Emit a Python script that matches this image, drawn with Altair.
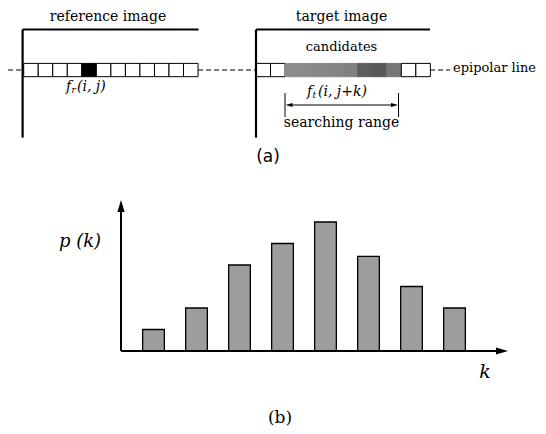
import altair as alt
import pandas as pd

# ---------------- data ----------------
k_values = [1, 2, 3, 4, 5, 6, 7, 8]
p_values = [1.0, 2.0, 4.0, 5.0, 6.0, 4.4, 3.0, 2.0]

ref_cell_fill = ["white"] * 4 + ["black"] + ["white"] * 7
target_cell_fill = ["white", "white",
                    "#8c8c8c", "#8a8a8a", "#878787", "#858585",
                    "#808080", "#5e5e5e", "#585858", "#767676",
                    "white", "white"]

labels_top = ["reference image", "target image", "candidates", "searching range"]
label_epipolar = "epipolar line"
label_a = "(a)"
label_b = "(b)"
label_p = "p (k)"
label_k = "k"

SERIF = "DejaVu Serif"

# ---------------- layout (page pixels) ----------------
XS = alt.Scale(domain=[8, 538], nice=False, zero=False)
YS = alt.Scale(domain=[8, 434], nice=False, zero=False, reverse=True)


def X(f="x"):
    return alt.X(f"{f}:Q", scale=XS, axis=None)


def Y(f="y"):
    return alt.Y(f"{f}:Q", scale=YS, axis=None)


CELL_W = 14.53
STRIP_Y0, STRIP_Y1 = 63.4, 76.7
REF_X0, TGT_X0 = 23.7, 256.0
BAR_X0, BAR_DX, BAR_W = 153.5, 43.0, 21.7
BASE_Y, UNIT = 351.0, 21.5
SR_L, SR_R, SR_Y = 285.0, 398.5, 105.0

cells = []
for i, f in enumerate(ref_cell_fill):
    cells.append(dict(x=REF_X0 + i * CELL_W, x2=REF_X0 + (i + 1) * CELL_W,
                      y=STRIP_Y0, y2=STRIP_Y1, fill=f, stroke="black"))
for i, f in enumerate(target_cell_fill):
    cells.append(dict(x=TGT_X0 + i * CELL_W, x2=TGT_X0 + (i + 1) * CELL_W,
                      y=STRIP_Y0, y2=STRIP_Y1, fill=f,
                      stroke="black" if f == "white" else f))
cells_df = pd.DataFrame(cells)

bars_df = pd.DataFrame({"k": k_values, "p": p_values})
bars_df["x"] = BAR_X0 + (bars_df["k"] - 1) * BAR_DX - BAR_W / 2
bars_df["x2"] = bars_df["x"] + BAR_W
bars_df["y"] = BASE_Y
bars_df["y2"] = BASE_Y - bars_df["p"] * UNIT

solid = pd.DataFrame([
    dict(x=22.6, y=29.6, x2=22.6, y2=137.6, w=2.2),
    dict(x=22.6, y=29.6, x2=198.6, y2=29.6, w=2.0),
    dict(x=256.0, y=29.6, x2=256.0, y2=137.6, w=2.2),
    dict(x=256.0, y=29.6, x2=430.0, y2=29.6, w=2.0),
    dict(x=SR_L, y=93.0, x2=SR_L, y2=117.0, w=1.0),
    dict(x=SR_R, y=93.0, x2=SR_R, y2=117.0, w=1.0),
    dict(x=SR_L + 4, y=SR_Y, x2=SR_R - 4, y2=SR_Y, w=1.2),
    dict(x=121.0, y=351.0, x2=121.0, y2=208.0, w=2.0),
    dict(x=121.0, y=351.0, x2=500.0, y2=351.0, w=2.0),
])
dashed = pd.DataFrame([
    dict(x=8.0, y=70.0, x2=22.6, y2=70.0),
    dict(x=198.0, y=70.0, x2=256.0, y2=70.0),
    dict(x=430.0, y=70.0, x2=450.0, y2=70.0),
])

cell_layer = alt.Chart(cells_df).mark_rect(strokeWidth=1).encode(
    x=X("x"), x2="x2:Q", y=Y("y"), y2="y2:Q",
    fill=alt.Fill("fill:N", scale=None),
    stroke=alt.Stroke("stroke:N", scale=None))

bar_layer = alt.Chart(bars_df).mark_rect(fill="#9d9d9d", stroke="black", strokeWidth=1.3).encode(
    x=X("x"), x2="x2:Q", y=Y("y"), y2="y2:Q")

solid_layer = alt.Chart(solid).mark_rule(color="black").encode(
    x=X("x"), x2="x2:Q", y=Y("y"), y2="y2:Q",
    strokeWidth=alt.StrokeWidth("w:Q", scale=None))

dash_layer = alt.Chart(dashed).mark_rule(color="black", strokeWidth=1, strokeDash=[5, 3]).encode(
    x=X("x"), x2="x2:Q", y=Y("y"), y2="y2:Q")

right_arrow = "M-1,-0.6L1,0L-1,0.6Z"
left_arrow = "M1,-0.6L-1,0L1,0.6Z"
up_arrow = "M-0.6,1L0,-1L0.6,1Z"

arr_big_r = alt.Chart(pd.DataFrame({"x": [502.0], "y": [351.0]})).mark_point(
    shape=right_arrow, size=144, filled=True, color="black", opacity=1).encode(x=X(), y=Y())
arr_big_u = alt.Chart(pd.DataFrame({"x": [121.0], "y": [206.0]})).mark_point(
    shape=up_arrow, size=144, filled=True, color="black", opacity=1).encode(x=X(), y=Y())
arr_sl = alt.Chart(pd.DataFrame({"x": [SR_L + 4], "y": [SR_Y]})).mark_point(
    shape=left_arrow, size=49, filled=True, color="black", opacity=1).encode(x=X(), y=Y())
arr_sr = alt.Chart(pd.DataFrame({"x": [SR_R - 4], "y": [SR_Y]})).mark_point(
    shape=right_arrow, size=49, filled=True, color="black", opacity=1).encode(x=X(), y=Y())


def text_layer(rows, size, font=SERIF, style="normal", weight="normal", align="center"):
    df = pd.DataFrame(rows, columns=["t", "x", "y"])
    return alt.Chart(df).mark_text(font=font, fontSize=size, fontStyle=style, fontWeight=weight,
                                   align=align, baseline="middle", color="black").encode(
        x=X(), y=Y(), text="t:N")


top_text = text_layer([
    (labels_top[0], 108.0, 17.0),
    (labels_top[1], 341.5, 17.0),
    (labels_top[3], 341.5, 123.0),
], 14)
cand_text = text_layer([(labels_top[2], 341.5, 47.0)], 13)
epi_text = text_layer([(label_epipolar, 453.0, 68.0)], 13, align="left")

f_main = text_layer([("f", 66.0, 87.0), ("f", 307.0, 92.0)], 14, style="italic", align="left")
f_sub = text_layer([("r", 71.5, 89.5), ("t", 312.5, 94.5)], 9, style="italic", align="left")
f_args = text_layer([("(i, j)", 77.0, 87.0), ("(i, j+k)", 318.0, 92.0)], 14, style="italic", align="left")

a_text = text_layer([(label_a, 268.0, 157.0)], 17, font="DejaVu Sans", weight="normal")
b_text = text_layer([(label_b, 280.0, 418.0)], 17)
p_text = text_layer([(label_p, 80.0, 242.0)], 18, style="italic")
k_text = text_layer([(label_k, 485.0, 372.0)], 19, style="italic")

chart = alt.layer(
    dash_layer, cell_layer, bar_layer, solid_layer,
    arr_big_r, arr_big_u, arr_sl, arr_sr,
    top_text, cand_text, epi_text, f_main, f_sub, f_args, a_text, b_text, p_text, k_text,
).properties(
    width=530, height=426, padding=0,
    autosize=alt.AutoSizeParams(type="none"),
    background="white",
).configure_view(stroke=None)

chart.save("out.html", embed_options={"renderer": "svg", "actions": False})
